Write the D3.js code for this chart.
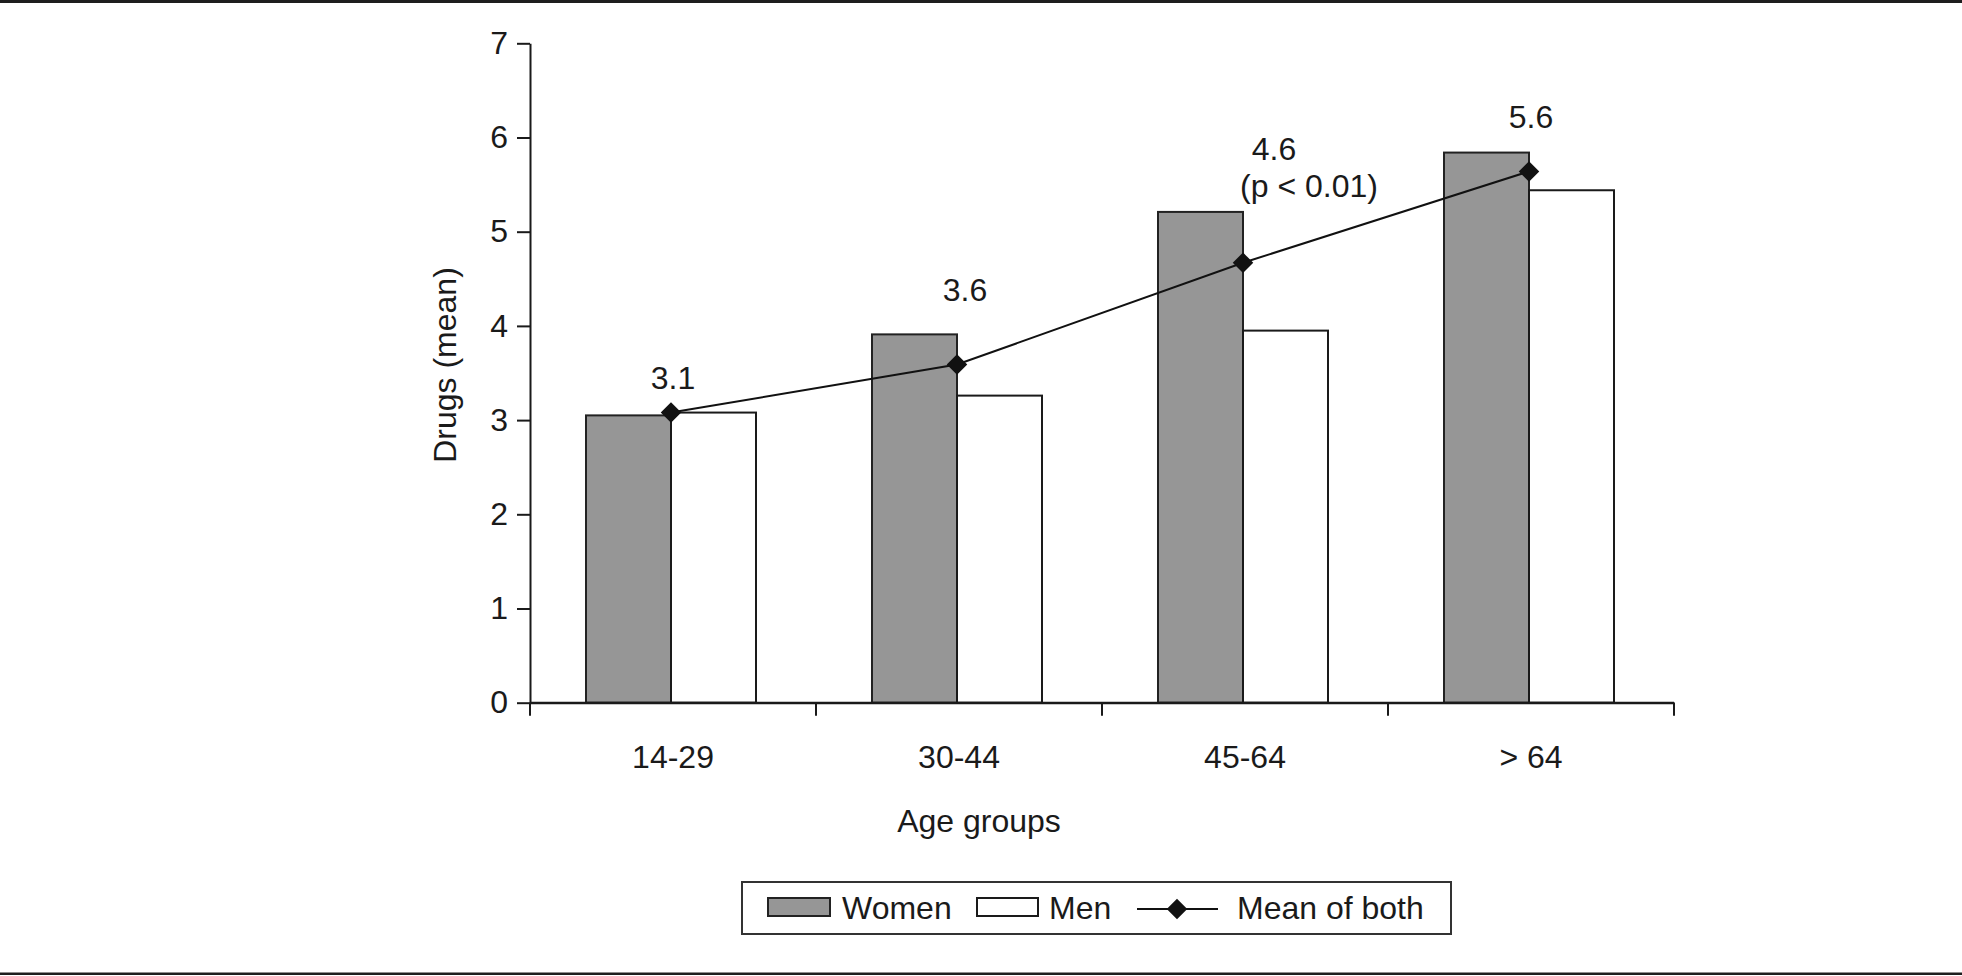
<!DOCTYPE html>
<html>
<head>
<meta charset="utf-8">
<script src="https://cdn.jsdelivr.net/npm/d3@7"></script>
<style>
  body { margin: 0; background: #fff; }
  svg { display: block; font-family: "Liberation Sans", Arial, sans-serif; }
  .axis path, .axis line { stroke: #1a1a1a; stroke-width: 2; }
  .axis text { font-size: 32px; fill: #1a1a1a; font-family: "Liberation Sans", Arial, sans-serif; }
</style>
</head>
<body>
<div id="chart"></div>
<script>
var categories = ["14-29", "30-44", "45-64", "> 64"];
var women = [3.05, 3.91, 5.21, 5.84];
var men = [3.08, 3.26, 3.95, 5.44];
var meanBoth = [3.08, 3.59, 4.67, 5.64];
var meanLabels = [["3.1"], ["3.6"], ["4.6", "(p < 0.01)"], ["5.6"]];
var yTicks = [0, 1, 2, 3, 4, 5, 6, 7];

var W = 1962, H = 976;

var svg = d3.select("#chart").append("svg")
    .attr("width", W)
    .attr("height", H);

// rules top and bottom
svg.append("rect").attr("x", 0).attr("y", 0).attr("width", W).attr("height", 3).attr("fill", "#1e1e1e");
svg.append("rect").attr("x", 0).attr("y", 972.5).attr("width", W).attr("height", 2.5).attr("fill", "#1e1e1e");

var x = d3.scaleBand()
    .domain(categories)
    .range([530, 1674])
    .padding(0);

var y = d3.scaleLinear()
    .domain([0, 7])
    .range([702.7, 43.3]);

var barW = 85;
function center(i) { return x(categories[i]) + x.bandwidth() / 2 - 2; }

// y axis
svg.append("g")
    .attr("class", "axis")
    .attr("transform", "translate(530,0)")
    .call(d3.axisLeft(y).tickValues(yTicks).tickFormat(d3.format("d"))
        .tickSize(13).tickSizeOuter(0).tickPadding(9));

// x axis: labels at band centres, ticks at band edges
var xAxis = svg.append("g")
    .attr("class", "axis")
    .attr("transform", "translate(0," + y(0) + ")")
    .call(d3.axisBottom(x).tickSize(0).tickSizeOuter(0));
xAxis.selectAll("text").attr("dy", null).attr("y", 65.5);

var bounds = categories.map(function (c) { return x(c); }).concat([x.range()[1]]);
xAxis.selectAll(".bound")
    .data(bounds)
    .enter().append("line")
    .attr("class", "bound")
    .attr("x1", function (d) { return d; })
    .attr("x2", function (d) { return d; })
    .attr("y1", 0)
    .attr("y2", 13);

// bars
svg.selectAll(".women")
    .data(women)
    .enter().append("rect")
    .attr("class", "women")
    .attr("x", function (d, i) { return center(i) - barW; })
    .attr("y", function (d) { return y(d); })
    .attr("width", barW)
    .attr("height", function (d) { return y(0) - y(d); })
    .attr("fill", "#969696")
    .attr("stroke", "#222")
    .attr("stroke-width", 2);

svg.selectAll(".men")
    .data(men)
    .enter().append("rect")
    .attr("class", "men")
    .attr("x", function (d, i) { return center(i); })
    .attr("y", function (d) { return y(d); })
    .attr("width", barW)
    .attr("height", function (d) { return y(0) - y(d); })
    .attr("fill", "#fff")
    .attr("stroke", "#1a1a1a")
    .attr("stroke-width", 2);

// x axis line again, over the bar bottoms
svg.append("line")
    .attr("x1", 530).attr("x2", 1674)
    .attr("y1", y(0)).attr("y2", y(0))
    .attr("stroke", "#1a1a1a").attr("stroke-width", 2);

// mean line
var line = d3.line()
    .x(function (d, i) { return center(i); })
    .y(function (d) { return y(d); });

svg.append("path")
    .datum(meanBoth)
    .attr("d", line)
    .attr("fill", "none")
    .attr("stroke", "#111")
    .attr("stroke-width", 2);

var diamond = d3.symbol().type(d3.symbolSquare).size(210);
svg.selectAll(".marker")
    .data(meanBoth)
    .enter().append("path")
    .attr("class", "marker")
    .attr("d", diamond)
    .attr("transform", function (d, i) { return "translate(" + center(i) + "," + y(d) + ") rotate(45)"; })
    .attr("fill", "#111");

// value labels above the taller bar of each group
var lift = [24, 33, 52, 25];
var shiftX = [[2], [8], [31, 66], [2]];
meanLabels.forEach(function (lines, i) {
    var top = y(Math.max(women[i], men[i]));
    lines.forEach(function (t, k) {
        svg.append("text")
            .attr("x", center(i) + shiftX[i][k])
            .attr("y", top - lift[i] + k * 37)
            .attr("text-anchor", "middle")
            .attr("font-size", 32)
            .attr("fill", "#1a1a1a")
            .text(t);
    });
});

// axis titles
svg.append("text")
    .attr("transform", "translate(456,365) rotate(-90)")
    .attr("text-anchor", "middle")
    .attr("font-size", 32)
    .attr("fill", "#1a1a1a")
    .text("Drugs (mean)");

svg.append("text")
    .attr("x", 979)
    .attr("y", 832)
    .attr("text-anchor", "middle")
    .attr("font-size", 32)
    .attr("fill", "#1a1a1a")
    .text("Age groups");

// legend
var lg = svg.append("g");
lg.append("rect")
    .attr("x", 742).attr("y", 882).attr("width", 709).attr("height", 52)
    .attr("fill", "#fff").attr("stroke", "#333").attr("stroke-width", 2);

lg.append("rect")
    .attr("x", 768).attr("y", 898).attr("width", 62).attr("height", 18)
    .attr("fill", "#969696").attr("stroke", "#222").attr("stroke-width", 2);
lg.append("text").attr("x", 842).attr("y", 919).attr("font-size", 32).attr("fill", "#1a1a1a").text("Women");

lg.append("rect")
    .attr("x", 977).attr("y", 898).attr("width", 61).attr("height", 18)
    .attr("fill", "#fff").attr("stroke", "#1a1a1a").attr("stroke-width", 2);
lg.append("text").attr("x", 1049).attr("y", 919).attr("font-size", 32).attr("fill", "#1a1a1a").text("Men");

lg.append("line")
    .attr("x1", 1137).attr("x2", 1218).attr("y1", 909).attr("y2", 909)
    .attr("stroke", "#111").attr("stroke-width", 2);
lg.append("path")
    .attr("d", diamond)
    .attr("transform", "translate(1177,909) rotate(45)")
    .attr("fill", "#111");
lg.append("text").attr("x", 1237).attr("y", 919).attr("font-size", 32).attr("fill", "#1a1a1a").text("Mean of both");
</script>
</body>
</html>
